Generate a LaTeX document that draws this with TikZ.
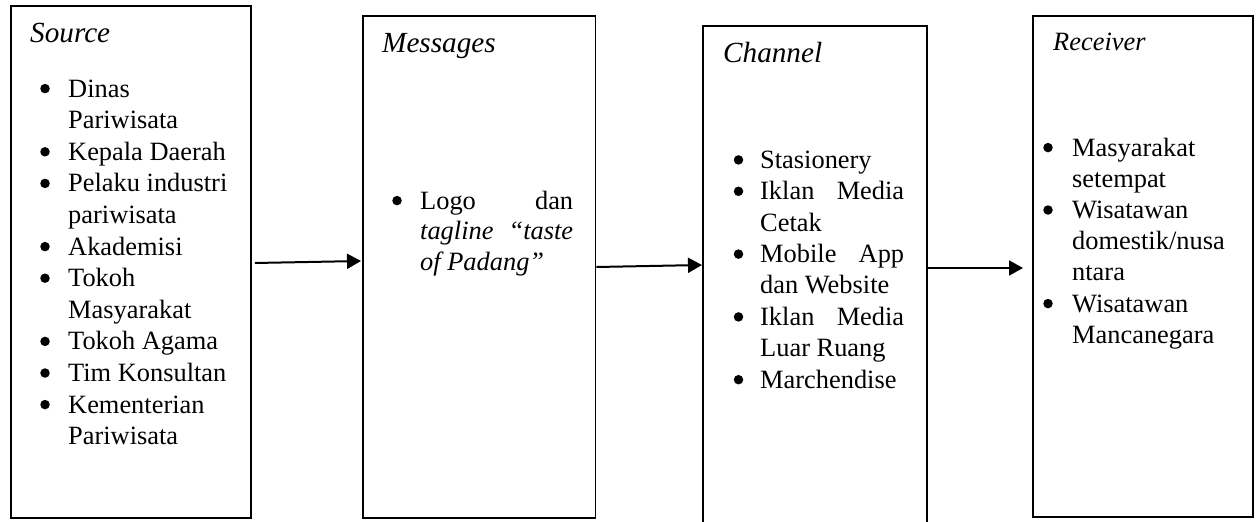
\documentclass[tikz,border=0pt]{standalone}
\usepackage{fontspec}
\setmainfont{Liberation Serif}
\usetikzlibrary{arrows.meta,calc}
\begin{document}
\begin{tikzpicture}[x=1pt,y=-1pt,
  panel/.style={draw, line width=1.8pt, inner sep=0pt, anchor=north west},
  flow/.style={line width=2pt, -{Triangle[length=14pt,width=15pt]}},
  heading/.style={anchor=base west, inner sep=0pt, font=\fontsize{29.2}{34}\selectfont\itshape},
  smallheading/.style={anchor=base west, inner sep=0pt, font=\fontsize{26.4}{31}\selectfont\itshape},
  entry/.style={anchor=base west, inner sep=0pt, font=\fontsize{26.4}{31}\selectfont},
  dot/.style={circle, fill, inner sep=0pt, minimum size=9.5pt, yshift=8.4pt},
]
\useasboundingbox (0,0) rectangle (1259,522);
\clip (0,0) rectangle (1259,522);

% the four stages of the communication model
\node[panel, minimum width=240pt, minimum height=512pt] (src) at (10,5) {};
\node[panel, minimum width=232.5pt, minimum height=502pt] (msg) at (362,15) {};
\node[panel, minimum width=224pt, minimum height=520pt] (chn) at (702,25) {};
\node[panel, minimum width=220pt, minimum height=501pt] (rcv) at (1032,15) {};

% Source
\node[heading] (srcT) at (30,42) {Source};
\node[dot] (sb1) at (45,97) {};
\node[entry] (s1) at (68,97) {Dinas};
\node[entry] (s2) at (68,128.6) {Pariwisata};
\node[dot] (sb2) at (45,160.2) {};
\node[entry] (s3) at (68,160.2) {Kepala Daerah};
\node[dot] (sb3) at (45,191.8) {};
\node[entry] (s4) at (68,191.8) {Pelaku industri};
\node[entry] (s5) at (68,223.4) {pariwisata};
\node[dot] (sb4) at (45,255) {};
\node[entry] (s6) at (68,255) {Akademisi};
\node[dot] (sb5) at (45,286.6) {};
\node[entry] (s7) at (68,286.6) {Tokoh};
\node[entry] (s8) at (68,318.2) {Masyarakat};
\node[dot] (sb6) at (45,349.8) {};
\node[entry] (s9) at (68,349.8) {Tokoh Agama};
\node[dot] (sb7) at (45,381.4) {};
\node[entry] (s10) at (68,381.4) {Tim Konsultan};
\node[dot] (sb8) at (45,413) {};
\node[entry] (s11) at (68,413) {Kementerian};
\node[entry] (s12) at (68,444.6) {Pariwisata};

% Messages
\node[heading] (msgT) at (382,52) {Messages};
\node[dot] (mb1) at (397,209) {};
\node[entry] (m1) at (420,209) {\hbox to 153pt{Logo\hfill dan}};
\node[entry] (m2) at (420,239.8) {\hbox to 153pt{\itshape tagline\hfill ``taste}};
\node[entry] (m3) at (420,270.6) {\itshape of Padang''};

% Channel
\node[heading] (chnT) at (723,62) {Channel};
\node[dot] (cb1) at (738.5,168.3) {};
\node[entry] (c1) at (760,168.3) {Stasionery};
\node[dot] (cb2) at (738.5,199.7) {};
\node[entry] (c2) at (760,199.7) {\hbox to 144pt{Iklan\hfill Media}};
\node[entry] (c3) at (760,231.1) {Cetak};
\node[dot] (cb3) at (738.5,262.5) {};
\node[entry] (c4) at (760,262.5) {\hbox to 144pt{Mobile\hfill App}};
\node[entry] (c5) at (760,293.9) {dan Website};
\node[dot] (cb4) at (738.5,325.3) {};
\node[entry] (c6) at (760,325.3) {\hbox to 144pt{Iklan\hfill Media}};
\node[entry] (c7) at (760,356.7) {Luar Ruang};
\node[dot] (cb5) at (738.5,388.1) {};
\node[entry] (c8) at (760,388.1) {Marchendise};

% Receiver
\node[smallheading] (rcvT) at (1053,50) {Receiver};
\node[dot] (rb1) at (1048,156) {};
\node[entry] (r1) at (1072,156) {Masyarakat};
\node[entry] (r2) at (1072,187.2) {setempat};
\node[dot] (rb2) at (1048,218.4) {};
\node[entry] (r3) at (1072,218.4) {Wisatawan};
\node[entry] (r4) at (1072,249.6) {domestik/nusa};
\node[entry] (r5) at (1072,280.8) {ntara};
\node[dot] (rb3) at (1048,312) {};
\node[entry] (r6) at (1072,312) {Wisatawan};
\node[entry] (r7) at (1072,343.2) {Mancanegara};

% flow between the stages
\draw[flow] ($(src.east |- 0,263)+(3,0)$) -- ($(msg.west |- 0,261)+(-1,0)$);
\draw[flow] (msg.east |- 0,267) -- (chn.west |- 0,265);
\draw[flow] (chn.east |- 0,268) -- ($(rcv.west |- 0,268)+(-9,0)$);
\end{tikzpicture}
\end{document}
